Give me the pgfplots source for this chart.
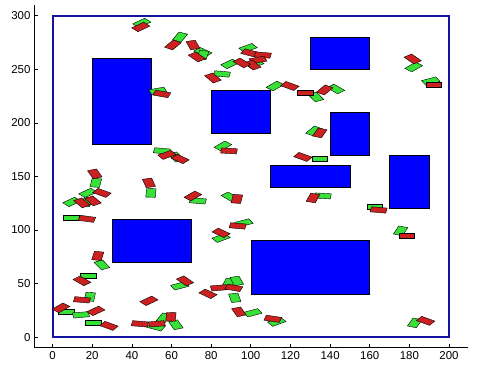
\documentclass[border=0pt]{standalone}
\usepackage{pgfplots}
\pgfplotsset{compat=1.18}
\usepackage{fontspec}
\setmainfont{Liberation Sans}
\definecolor{rred}{RGB}{205,32,32}
\definecolor{rgreen}{RGB}{55,225,55}
\definecolor{frameblue}{RGB}{20,20,160}
\def\pang{0}
\pgfdeclareplotmark{piece}{%
  \pgftransformxscale{1.983}\pgftransformyscale{1.072}\pgftransformrotate{\pang}%
  \pgfpathrectangle{\pgfpoint{-4bp}{-2.4bp}}{\pgfpoint{8bp}{4.8bp}}%
  \pgfusepathqfillstroke}

\begin{document}
\begin{tikzpicture}
\begin{axis}[
  x=1.983bp, y=1.072bp,
  xmin=-9.4, xmax=209.6, ymin=-10, ymax=310,
  axis x line*=bottom, axis y line*=left,
  axis line style={-, line width=0.8bp, black},
  tick align=inside, major tick length=4bp,
  tick style={black, line width=0.6bp},
  xtick={0,20,...,200}, ytick={0,50,...,300},
  /pgf/number format/assume math mode=true,
  tick label style={font=\fontsize{11.5}{13}\selectfont},
  clip=false,
]
\addplot[draw=frameblue, line width=2bp] coordinates {(0,0) (200,0) (200,300) (0,300)} -- cycle;
\addplot[fill=blue, draw=black, line width=0.5bp] coordinates {(20,180) (50,180) (50,260) (20,260)} -- cycle;
\addplot[fill=blue, draw=black, line width=0.5bp] coordinates {(80,190) (110,190) (110,230) (80,230)} -- cycle;
\addplot[fill=blue, draw=black, line width=0.5bp] coordinates {(130,250) (160,250) (160,280) (130,280)} -- cycle;
\addplot[fill=blue, draw=black, line width=0.5bp] coordinates {(140,170) (160,170) (160,210) (140,210)} -- cycle;
\addplot[fill=blue, draw=black, line width=0.5bp] coordinates {(110,140) (150,140) (150,160) (110,160)} -- cycle;
\addplot[fill=blue, draw=black, line width=0.5bp] coordinates {(170,120) (190,120) (190,170) (170,170)} -- cycle;
\addplot[fill=blue, draw=black, line width=0.5bp] coordinates {(30,70) (70,70) (70,110) (30,110)} -- cycle;
\addplot[fill=blue, draw=black, line width=0.5bp] coordinates {(100,40) (160,40) (160,90) (100,90)} -- cycle;

\addplot[only marks, mark=piece, mark options={draw=black, fill=rgreen, line width=0.4bp},
  visualization depends on={\thisrow{a} \as \pang}]
  table[x=x, y=y] {
x y a
45.0 293.2 41
64.3 280.1 66
75.8 266.1 -41
75.8 263.3 79
98.6 269.9 34
102.0 255.0 34
89.4 255.0 41
85.4 245.6 -9
53.1 229.8 18
112.2 234.4 47
132.8 224.2 -62
142.9 231.6 -47
182.2 252.1 47
190.8 239.0 26
55.1 173.8 -9
62.3 168.2 -62
21.8 144.0 82
49.6 134.6 87
17.8 134.6 41
9.7 126.2 41
17.3 126.2 73
9.2 111.3 0
85.9 178.4 47
131.9 192.4 57
134.8 166.3 0
73.3 127.2 -9
89.5 130.9 -47
136.4 131.8 -6
96.5 106.6 26
85.0 92.6 34
162.5 121.6 0
175.6 99.2 70
24.9 67.4 -62
17.8 57.2 0
18.8 37.6 84
6.7 23.6 0
14.3 20.8 9
20.3 13.3 0
52.1 9.6 -26
56.1 18.0 66
62.2 11.5 -69
64.2 47.9 26
88.9 50.7 73
92.9 52.5 -73
91.9 36.7 -79
101.0 22.7 26
113.1 14.3 34
182.7 13.3 69
};
\addplot[only marks, mark=piece, mark options={draw=black, fill=rred, line width=0.4bp},
  visualization depends on={\thisrow{a} \as \pang}]
  table[x=x, y=y] {
x y a
44.5 289.5 41
60.7 272.7 57
70.8 272.7 -73
72.8 261.5 -52
99.6 265.2 -26
106.1 263.3 -9
103.6 258.7 18
101.0 254.0 -57
95.5 255.9 -47
80.9 241.9 -57
55.1 227.0 -18
119.7 234.4 -34
127.3 227.9 0
137.3 230.7 57
181.7 259.6 -52
192.3 235.3 0
57.7 170.1 34
64.3 166.3 -41
21.3 152.4 -69
48.6 144.0 -76
24.9 134.6 -34
14.8 125.3 -57
20.4 127.2 -57
17.3 110.4 -14
89.0 173.8 -6
134.8 190.6 69
126.3 168.2 -34
70.8 131.8 47
93.0 129.0 82
131.4 129.9 73
93.4 103.8 -9
85.0 97.3 -41
164.5 118.7 -9
178.7 94.5 0
22.8 75.8 80
14.8 52.5 -47
14.8 34.8 -9
4.2 27.3 47
21.8 24.5 41
28.4 10.5 -34
48.6 33.9 41
44.0 12.4 -9
52.6 12.4 9
59.7 18.9 87
66.8 52.5 -52
78.4 40.4 -41
83.9 46.0 9
91.4 46.0 -18
94.0 23.6 -69
111.1 17.1 -15
188.2 15.2 -34
};
\end{axis}
\pgfresetboundingbox
\path[use as bounding box] ([xshift=-34bp,yshift=-27bp]current axis.south west) rectangle ([xshift=13bp,yshift=5bp]current axis.north east);
\end{tikzpicture}
\end{document}
